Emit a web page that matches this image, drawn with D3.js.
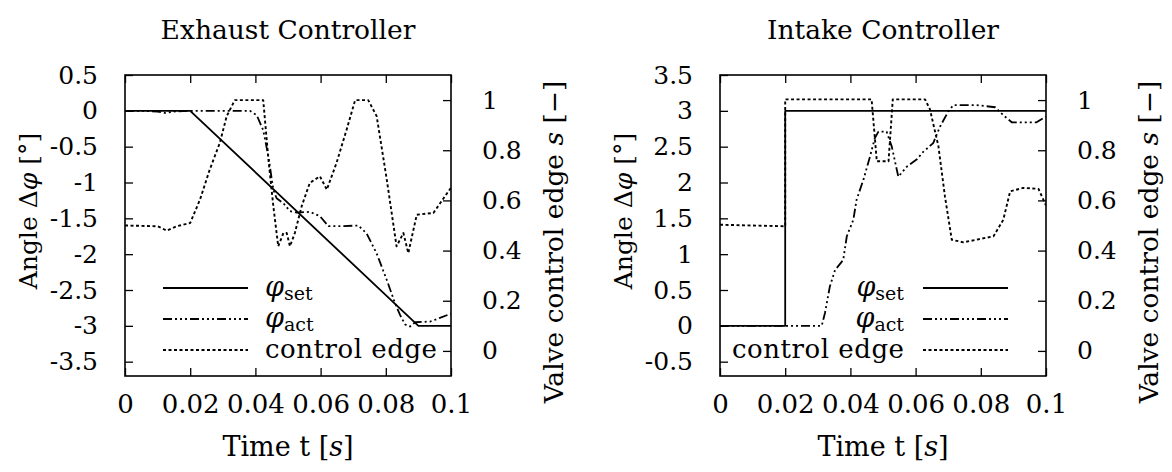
<!DOCTYPE html>
<html>
<head>
<meta charset="utf-8">
<script src="https://cdn.jsdelivr.net/npm/d3@7"></script>
<style>
  html, body { margin: 0; padding: 0; background: #fff; }
  svg text { font-family: "DejaVu Serif", serif; fill: #000; }
</style>
</head>
<body>
<svg id="chart" width="1172" height="472"></svg>
<script>
// ---- data: [time s, value] ----
const exhSet = [[0, 0], [0.02, 0], [0.09, -3], [0.1, -3]];
const exhAct = [[0, 0], [0.005, 0], [0.010, -0.01], [0.0123, -0.03], [0.015, -0.01], [0.02, 0], [0.03, 0],
  [0.0383, 0], [0.0404, -0.06], [0.0424, -0.27], [0.044, -0.64], [0.0455, -1.10], [0.0465, -1.22],
  [0.0486, -1.29], [0.0506, -1.40], [0.0527, -1.42], [0.0567, -1.41], [0.0598, -1.47], [0.0624, -1.61],
  [0.066, -1.61], [0.0716, -1.60], [0.0741, -1.71], [0.0772, -1.99], [0.0803, -2.36], [0.0828, -2.68],
  [0.0844, -2.85], [0.0859, -2.98], [0.0874, -3.01], [0.089, -2.95], [0.0936, -2.94], [0.0966, -2.89],
  [0.1, -2.83]];
const exhEdge = [[0, 0.50], [0.01, 0.497], [0.0128, 0.48], [0.0159, 0.497], [0.02, 0.51], [0.023, 0.603],
  [0.026, 0.723], [0.0291, 0.83], [0.0312, 0.936], [0.0337, 1.0], [0.0424, 1.0], [0.044, 0.763],
  [0.0455, 0.577], [0.047, 0.417], [0.0486, 0.47], [0.0496, 0.47], [0.0506, 0.417], [0.0521, 0.47],
  [0.0542, 0.577], [0.0567, 0.67], [0.0598, 0.696], [0.0619, 0.643], [0.0649, 0.75], [0.068, 0.883],
  [0.0706, 1.0], [0.0746, 1.0], [0.0772, 0.936], [0.0803, 0.683], [0.0833, 0.417], [0.0854, 0.47],
  [0.0869, 0.39], [0.0895, 0.543], [0.0946, 0.55], [0.0992, 0.636], [0.1, 0.65]];

const intSet = [[0, 0], [0.02, 0], [0.02, 3], [0.1, 3]];
const intAct = [[0, 0], [0.0312, 0], [0.0322, 0.18], [0.0337, 0.55], [0.0353, 0.78], [0.0378, 0.92],
  [0.0389, 1.25], [0.0409, 1.48], [0.0419, 1.76], [0.044, 2.04], [0.046, 2.36], [0.0475, 2.62],
  [0.0486, 2.71], [0.0511, 2.71], [0.0527, 2.50], [0.0547, 2.08], [0.0573, 2.22], [0.0603, 2.32],
  [0.0624, 2.43], [0.0654, 2.55], [0.0675, 2.78], [0.07, 2.99], [0.0716, 3.08], [0.0787, 3.08],
  [0.0844, 3.05], [0.0869, 2.94], [0.0895, 2.84], [0.0971, 2.84], [0.1, 2.92]];
const intEdge = [[0, 0.503], [0.02, 0.497], [0.02, 1.003], [0.0465, 1.003], [0.0481, 0.756],
  [0.0517, 0.756], [0.053, 1.003], [0.0629, 1.003], [0.0644, 0.963], [0.067, 0.816], [0.069, 0.616],
  [0.0711, 0.443], [0.0747, 0.433], [0.0839, 0.457], [0.0869, 0.523], [0.089, 0.636], [0.093, 0.65],
  [0.0977, 0.646], [0.1, 0.58]];

// ---- axes ----
const timeTicks = [0, 0.02, 0.04, 0.06, 0.08, 0.1];
const exhAngleTicks = [0.5, 0, -0.5, -1, -1.5, -2, -2.5, -3, -3.5];
const intAngleTicks = [3.5, 3, 2.5, 2, 1.5, 1, 0.5, 0, -0.5];
const edgeTicks = [0, 0.2, 0.4, 0.6, 0.8, 1];

const panels = [
  { title: "Exhaust Controller", left: 125, angleDomain: [-3.7, 0.5], angleTicks: exhAngleTicks,
    set: exhSet, act: exhAct, edge: exhEdge, legendRight: false },
  { title: "Intake Controller", left: 720, angleDomain: [-0.7, 3.5], angleTicks: intAngleTicks,
    set: intSet, act: intAct, edge: intEdge, legendRight: true }
];

const W = 326, TOP = 75, H = 301;
const FONT = "'DejaVu Serif', serif";
const svg = d3.select("#chart");
const fmt = v => String(v);

const styles = {
  set:  { dash: null, width: 1.8 },
  act:  { dash: "9,3,2,3,2,3,2,3", width: 1.8 },
  edge: { dash: "3,2.5", width: 1.9 }
};

panels.forEach(p => {
  const g = svg.append("g").attr("transform", `translate(${p.left},${TOP})`);
  const x = d3.scaleLinear().domain([0, 0.1]).range([0, W]);
  const y = d3.scaleLinear().domain(p.angleDomain).range([H, 0]);
  const y2 = d3.scaleLinear().domain([-0.1, 1.1]).range([H, 0]);

  const bx = g.append("g").attr("transform", `translate(0,${H})`)
    .call(d3.axisBottom(x).tickValues(timeTicks).tickSize(-8).tickPadding(19).tickFormat(fmt));
  const tx = g.append("g")
    .call(d3.axisTop(x).tickValues(timeTicks).tickSize(-8).tickFormat(""));
  const ly = g.append("g")
    .call(d3.axisLeft(y).tickValues(p.angleTicks).tickSize(-8).tickPadding(27).tickFormat(fmt));
  const ry = g.append("g").attr("transform", `translate(${W},0)`)
    .call(d3.axisRight(y2).tickValues(edgeTicks).tickSize(-8).tickPadding(31).tickFormat(fmt));

  [bx, tx, ly, ry].forEach(a => {
    a.attr("font-family", FONT).attr("font-size", 25);
    a.select(".domain").remove();
    a.selectAll(".tick line").attr("stroke", "#000").attr("stroke-width", 1.3);
    a.selectAll(".tick text").attr("fill", "#000");
  });
  bx.attr("font-size", 26);
  bx.selectAll(".tick text").attr("dy", "0.71em");

  g.append("rect").attr("width", W).attr("height", H)
    .attr("fill", "none").attr("stroke", "#000").attr("stroke-width", 1.6);

  const lineA = d3.line().x(d => x(d[0])).y(d => y(d[1]));
  const lineE = d3.line().x(d => x(d[0])).y(d => y2(d[1]));

  const clip = "clip-" + p.left;
  g.append("clipPath").attr("id", clip).append("rect").attr("width", W).attr("height", H);
  const plot = g.append("g").attr("clip-path", `url(#${clip})`);

  const draw = (data, gen, st) => plot.append("path").attr("d", gen(data))
    .attr("fill", "none").attr("stroke", "#000").attr("stroke-width", st.width)
    .attr("stroke-dasharray", st.dash).attr("stroke-linejoin", "round");
  draw(p.edge, lineE, styles.edge);
  draw(p.set, lineA, styles.set);
  draw(p.act, lineA, styles.act);

  // legend
  const rows = [
    { key: "set", sub: "set", y: 213 },
    { key: "act", sub: "act", y: 244 },
    { key: "edge", label: "control edge", y: 275 }
  ];
  rows.forEach(r => {
    const st = styles[r.key];
    let x1, x2, tx0, anchor;
    if (p.legendRight) { x1 = 203; x2 = 288; tx0 = 184; anchor = "end"; }
    else { x1 = 38; x2 = 123; tx0 = 140; anchor = "start"; }
    g.append("line").attr("x1", x1).attr("x2", x2).attr("y1", r.y).attr("y2", r.y)
      .attr("stroke", "#000").attr("stroke-width", st.width).attr("stroke-dasharray", st.dash);
    const t = g.append("text").attr("x", tx0).attr("y", r.y + 8)
      .attr("text-anchor", anchor).style("font-size", "26px");
    if (r.label) t.text(r.label).attr("textLength", 172).attr("lengthAdjust", "spacing");
    else {
      t.append("tspan").style("font-style", "italic").style("font-size", "27px").text("φ");
      t.append("tspan").attr("dy", 4).style("font-size", "19px").text(r.sub);
    }
  });

  svg.append("text").attr("x", p.left + W / 2).attr("y", 39).attr("text-anchor", "middle")
    .style("font-size", "26.5px").text(p.title);

  const xl = svg.append("text").attr("x", p.left + W / 2).attr("y", 456)
    .attr("text-anchor", "middle").style("font-size", "27px");
  xl.append("tspan").text("Time t [");
  xl.append("tspan").style("font-style", "italic").text("s");
  xl.append("tspan").text("]");

  const yl = svg.append("text").attr("transform", `translate(${p.left - 97},211) rotate(-90)`)
    .attr("text-anchor", "middle").attr("dy", "0.35em").style("font-size", "25px");
  yl.append("tspan").text("Angle Δ");
  yl.append("tspan").style("font-style", "italic").text("φ");
  yl.append("tspan").text(" [°]");

  const yr = svg.append("text").attr("transform", `translate(${p.left + W + 103},242) rotate(-90)`)
    .attr("text-anchor", "middle").attr("dy", "0.35em").style("font-size", "26.5px");
  yr.append("tspan").text("Valve control edge ");
  yr.append("tspan").style("font-style", "italic").text("s");
  yr.append("tspan").text(" [−]");
});
</script>
</body>
</html>
